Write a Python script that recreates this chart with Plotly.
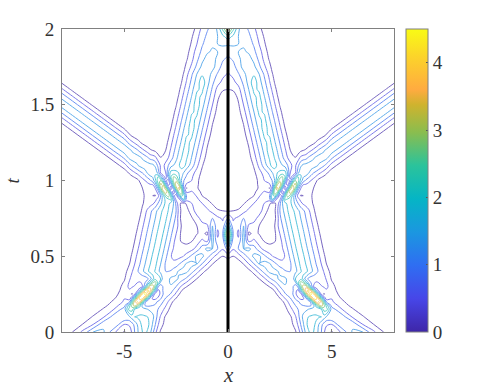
import plotly.graph_objects as go

x_main = [0,.25,.5,.75,1,1.25,1.5,1.75,2,2.25,2.5,2.75,3,3.25,3.5,3.75,4,4.25,4.5,4.75,5,5.5,6,6.5,7,7.5,8]
x_mid = [2.125,2.375,2.625,2.875,3.125,3.375,3.625,3.875,4.125,4.375,4.625]
t_vals = [round(i*0.05,2) for i in range(41)]
t_extra = [.175,.225,.275,.325,.875,.925,.975,1.025]

# amplitude, right half (x >= 0); one row per t, trailing zeros omitted
rows = [
[0,0,0,0,0,0,0,0, 0,0,.01,.03,.1,.35,.9,1.7,2.1,1.8,1.2,.6, .35,.9,1.65,1.6,.9,.4,.05],
[0,0,0,0,0,0,0,0, 0,0,.02,.1,.25,.55,1.2,1.9,2.2,1.9,1.3,.85, .8,1.55,1.5,.8,.42,.05],
[0,0,0,0,0,0,0,0, 0,0,.01,.1,.33,.75,1.4,1.9,2.05,2.1,2.0,1.55, 1.6,1.4,.75,.45,.05],
[0,0,0,0,0,0,0,0, 0,0,.03,.25,.65,1.05,1.35,1.5,1.7,1.7,2.0,2.6, 1.4,.8,.45,.08],
[0,0,0,0,0,0,0,0, 0,.02,.15,.55,1.0,1.3,1.1,.9,1.4,3.7,3.4,1.1, .85,.5,.08],
[0,0,0,0,0,0,0,0, .02,.25,.7,1.15,1.4,.9,.5,2.8,4.5,3.0,.7,.6, .7,.2,.02],
[0,0,0,0,0,0,.05,.2, .42,.75,1.2,1.55,1.5,.9,2.5,3.5,1.5,.5,.75,.9, .55,.05],
[0,0,0,0,0,.1,.38,.7, 1.1,1.4,1.7,1.7,1.3,2.0,2.3,1.4,.95,.95,1.1,.75, .35,.03],
[0,0,0,.03,.25,.55,.95,1.35, 1.7,1.75,1.5,1.25,1.2,1.5,1.95,2.12,1.72,1.3,.97,.57, .25,.02],
[.03,.05,.15,.42,.8,1.2,1.6,1.75, 1.65,1.3,1.0,.85,1.14,1.61,2.09,1.99,1.59,1.19,.79,.39, .07],
[.55,.4,.6,.95,1.35,1.7,1.7,1.3, .95,.72,.62,.82,1.29,1.77,2.24,1.86,1.46,1.06,.66,.28, .03],
[1.4,.85,1.2,1.6,1.7,1.4,.95,.65, .55,.55,.6,.98,1.45,1.93,2.12,1.72,1.32,.92,.52,.16, .01],
[2.8,.9,.9,1.75,.7,.9,.6,.38, .3,.38,.65,1.13,1.6,2.08,1.99,1.59,1.19,.79,.4,.05],
[3.7,1.2,.7,1.75,.32,.5,.38,.3, .2,.33,.81,1.28,1.76,2.23,1.87,1.47,1.07,.67,.29,.02],
[2.2,.9,.9,1.6,.7,.65,.4,.2, .15,.4,.96,1.43,1.91,2.14,1.74,1.34,.94,.54,.18],
[1.2,.75,.9,1.2,1.2,.95,.65,.35, .15,.3,1.11,1.59,2.06,2.01,1.61,1.21,.81,.41,.05],
[.35,.4,.45,.65,.9,1.1,1.0,.6, .25,.33,1.2,1.75,2.2,1.88,1.48,1.08,.68,.28,.02],
[.05,.1,.2,.36,.55,.8,1.05,.8, .45,.35,1.1,1.9,2.1,1.5,.9,.62,.48,.15,.02],
[0,.02,.05,.1,.25,.4,.75,1.0, 1.2,2.6,.5,2.3,2.6,1.2,.38,.55,.45,.15,.04],
[0,0,0,.02,.05,.1,.48,.55, .38,2.6,3.0,.45,2.9,2.7,.85,.5,.55,.2,.03],
[0,0,0,0,.02,.1,.55,.8, 1.0,1.6,3.1,1.8,.9,2.8,1.9,1.15,.8,.45,.2,.08, .03],
[0,0,0,0,.05,.3,.65,.95, 1.3,1.8,2.1,2.2,.8,.8,1.9,1.9,1.4,1.06,.75,.45, .15,.03],
[0,0,0,0,.1,.45,.9,1.4, 1.85,2.15,1.75,1.45,.95,.75,1.5,1.75,1.85,1.7,1.4,1.06, .62,.15,.03],
[0,0,0,.03,.24,.63,1.1,1.58, 2.05,1.97,1.5,1.03,.6,.42,.9,1.06,1.4,1.7,1.85,1.7, 1.27,.62,.15,.03],
[0,0,0,.07,.35,.79,1.26,1.74, 2.21,1.81,1.34,.86,.4,.15,.3,.45,.75,1.06,1.4,1.7, 1.82,1.27,.62,.15,.03],
[0,0,0,.14,.47,.95,1.42,1.9, 2.13,1.65,1.18,.7,.29,.04,.04,.08,.2,.45,.75,1.06, 1.52,1.82,1.27,.62,.15,.03],
[0,0,0,.24,.63,1.11,1.59,2.06, 1.97,1.49,1.02,.54,.18,0,0,0,.03,.08,.2,.45, .88,1.52,1.82,1.27,.62,.15,.03],
[0,0,.05,.35,.8,1.27,1.75,2.22, 1.8,1.33,.85,.38,.08,0,0,0,0,0,.03,.08, .3,.88,1.52,1.82,1.27,.62,.15],
[0,0,.15,.48,.96,1.43,1.91,2.12, 1.64,1.17,.69,.28,.03,0,0,0,0,0,0,0, .05,.3,.88,1.52,1.82,1.27,.62],
[0,0,.25,.64,1.12,1.59,2.07,1.96, 1.48,1.0,.53,.18,0,0,0,0,0,0,0,0, 0,.05,.3,.88,1.52,1.82,1.27],
[.02,.05,.35,.81,1.28,1.76,2.23,1.79, 1.32,.84,.37,.07,0,0,0,0,0,0,0,0, 0,0,.05,.3,.88,1.52,1.82],
[.07,.15,.49,.97,1.44,1.92,2.11,1.63, 1.16,.68,.27,0,0,0,0,0,0,0,0,0, 0,0,0,.05,.3,.88,1.52],
[.4,.45,.65,1.13,1.6,2.08,1.95,1.47, .99,.52,.17,0,0,0,0,0,0,0,0,0, 0,0,0,0,.05,.3,.88],
[.6,.7,.95,1.29,1.77,2.24,1.78,1.31, .83,.37,.07,0,0,0,0,0,0,0,0,0, 0,0,0,0,0,.05,.3],
[.75,.9,1.15,1.45,1.85,1.95,1.62,1.15, .68,.26,.01,0,0,0,0,0,0,0,0,0, 0,0,0,0,0,0,.05],
[.95,1.05,1.4,1.75,1.85,1.7,1.3,.88, .52,.1],
[1.1,1.25,1.5,1.75,1.75,1.5,1.1,.7, .35,.02],
[1.35,1.45,1.6,1.65,1.55,1.3,.95,.62, .22],
[1.65,1.65,1.6,1.55,1.4,1.15,.8,.47, .1],
[2.2,1.9,1.6,1.5,1.3,1.0,.7,.35, .05],
[3.6,2.5,1.65,1.4,1.15,.9,.55,.2, .03],
]

# same t rows, the in-between x columns listed in x_mid
mid_rows = [
[0,0,.02,.06,.2,.6,1.3,1.95,2.0,1.5,.85],
[0,.01,.05,.17,.4,.85,1.55,2.1,2.1,1.6,1.05],
[0,.01,.04,.2,.52,1.05,1.7,2.0,2.1,2.05,1.8],
[0,.01,.12,.45,.85,1.2,1.45,1.6,1.7,1.6,2.6],
[0,.07,.33,.78,1.2,1.25,.95,.8,2.8,4.05,2.3],
[.1,.45,.95,1.3,1.2,.55,1.4,3.9,4.1,1.8,.35],
[.58,.95,1.4,1.6,1.25,1.3,3.5,2.6,.8,.55,.85],
[1.25,1.55,1.7,1.5,1.4,2.4,1.85,1.1,.95,1.05,.95],
[1.75,1.65,1.4,1.2,1.3,1.7,2.15,1.92,1.5,1.15,.77],
[1.5,1.15,.9,.95,1.38,1.85,2.19,1.79,1.39,.99,.59],
[.82,.65,.7,1.05,1.53,2.0,2.06,1.66,1.26,.86,.46],
[.55,.52,.78,1.21,1.69,2.16,1.92,1.52,1.12,.72,.33],
[.33,.45,.89,1.37,1.84,2.19,1.79,1.39,.99,.59,.22],
[.25,.55,1.04,1.52,1.99,2.07,1.67,1.27,.87,.47,.11],
[.25,.72,1.2,1.67,2.15,1.94,1.54,1.14,.74,.35,.05],
[.2,.6,1.35,1.82,2.21,1.81,1.41,1.01,.61,.23,.01],
[.28,.7,1.5,1.98,2.08,1.68,1.28,.88,.48,.1],
[.33,.5,1.6,2.1,1.8,1.2,.72,.55,.35,.06],
[2.2,1.7,1.0,3.1,1.9,.65,.4,.5,.3,.08,.01],
[1.0,3.7,1.4,1.4,3.6,1.6,.45,.55,.4,.08,.01],
[1.2,2.4,2.9,.6,1.9,2.6,1.4,.95,.6,.3,.13],
[1.55,2.0,2.2,1.6,.45,1.5,1.9,1.65,1.2,.9,.6],
[2.15,1.95,1.6,1.2,.7,1.1,1.7,1.8,1.8,1.55,1.25],
[2.2,1.74,1.27,.8,.48,.6,1.0,1.25,1.55,1.8,1.8],
[2.05,1.58,1.1,.63,.25,.18,.38,.6,.9,1.25,1.55],
[1.89,1.41,.94,.46,.14,.03,.05,.13,.3,.6,.9],
[1.73,1.25,.78,.33,.05,0,0,.01,.05,.13,.3],
[1.57,1.09,.62,.23,.01,0,0,0,0,.01,.05],
[1.4,.93,.45,.13],
[1.24,.77,.33,.04],
[1.08,.61,.22],
[.92,.44,.12],
[.76,.32,.03],
[.6,.22],
[.45,.1],
[.3,.02],
[.15],
[.05],
[.02],
[.01],
[.01],
]

# finer t rows through the narrow peaks (t_extra)
extra_rows = [
[0,0,0,0,0,0,0,0, 0,.01,.08,.38,.83,1.2,1.25,1.15,1.2,2.2,3.4,2.2, 1.05,.62,.27,.03],
[0,0,0,0,0,0,0,0, .01,.1,.42,.83,1.2,1.15,.62,1.2,3.4,4.25,2.2,.5, .78,.33,.05],
[0,0,0,0,0,0,0,.04, .15,.45,.95,1.35,1.45,.9,1.8,3.8,3.4,1.3,.5,.75, .62,.1],
[0,0,0,0,0,.02,.15,.42, .75,1.05,1.45,1.65,1.4,1.5,3.0,2.2,1.2,.75,.95,.85, .45,.04],
[.02,.06,.12,.22,.4,.6,.9,.9, 1.0,1.2,.7,2.5,2.1,1.3,.7,.6,.48,.15,.02],
[0,.01,.02,.05,.15,.3,.6,.85, .7,3.2,1.4,1.3,3.6,1.9,.55,.5,.5,.15,.03,.01],
[0,0,0,.01,.03,.12,.52,.75, .75,1.9,3.5,1.1,1.6,3.3,1.4,.8,.68,.33,.1,.03, .01],
[0,0,0,0,.03,.2,.6,.85, 1.15,1.7,2.6,2.4,.6,1.7,2.1,1.5,1.1,.75,.45,.25, .08],
]
extra_mid = [
[0,.03,.2,.6,1.0,1.25,1.2,1.1,1.5,3.0,3.0],
[.03,.22,.62,1.05,1.3,.85,.7,2.3,4.3,3.3,1.1],
[.25,.72,1.15,1.45,1.25,.7,2.9,4.15,2.4,.65,.6],
[.9,1.25,1.6,1.55,1.3,2.3,2.8,1.6,.85,.8,.98],
[2.0,.55,1.5,2.3,1.8,.95,.55,.55,.3,.06,.01],
[1.5,2.9,.5,2.8,3.0,1.0,.42,.52,.33,.07,.02],
[1.1,3.1,2.5,.55,3.1,2.3,.85,.7,.5,.2,.06],
[1.4,2.1,2.8,1.4,1.0,2.4,1.65,1.3,.95,.55,.35],
]

colorscale = [[0,"#3e26a8"],[.11,"#4746e8"],[.22,"#2f6ef2"],[.33,"#1b97e0"],[.44,"#05b5c5"],
              [.55,"#2bc39b"],[.66,"#8bbd4e"],[.75,"#cfb32e"],[.8,"#ffab40"],[.9,"#fcd02c"],[1,"#f9fb15"]]
x_ticks = [-5,0,5]
x_labels = ["-5","0","5"]
t_ticks = [0,.5,1,1.5,2]
t_labels = ["0","0.5","1","1.5","2"]
cbar_ticks = [0,1,2,3,4]

# merge columns and rows, then mirror about x = 0
x_all = x_main + x_mid
order = sorted(range(len(x_all)), key=lambda i: x_all[i])
x_half = [x_all[i] for i in order]
by_t = {}
for t, r, m in zip(t_vals + t_extra, rows + extra_rows, mid_rows + extra_mid):
    r = r + [0]*(len(x_main)-len(r))
    m = m + [0]*(len(x_mid)-len(m))
    c = r + m
    half = [c[i] for i in order]
    by_t[t] = half[:0:-1] + half
t_all = sorted(by_t)
z_full = [by_t[t] for t in t_all]
x_full = [-v for v in x_half[:0:-1]] + x_half

SERIF = '"Liberation Serif", "Times New Roman", serif'
TXT = "#333333"
fig = go.Figure()
fig.add_trace(go.Contour(x=x_full, y=t_all, z=z_full, zmin=0, zmax=4.5, colorscale=colorscale,
    autocontour=False, contours=dict(coloring="lines", start=.4, end=4.4, size=.4), opacity=.7,
    line=dict(width=1, smoothing=1), showscale=False, hoverinfo="skip"))
fig.add_trace(go.Scatter(x=[0,0], y=[0,2], mode="lines", line=dict(color="black", width=3), showlegend=False))
fig.add_trace(go.Scatter(x=[0], y=[-1], mode="markers", showlegend=False,
    marker=dict(color=[0], cmin=0, cmax=4.5, colorscale=colorscale, showscale=True,
    colorbar=dict(x=1.036, xanchor="left", xpad=0, ypad=0, y=0, yanchor="bottom", len=1.0,
                  thickness=22, tickvals=cbar_ticks, ticks="inside", ticklen=2, tickcolor="#555",
                  outlinecolor="#808080", outlinewidth=1,
                  tickfont=dict(family=SERIF, size=19, color=TXT)))))
axis = dict(showgrid=False, zeroline=False, showline=True, mirror="ticks", linecolor="#808080", linewidth=1,
            automargin=False, ticks="inside", ticklen=3, tickcolor="#808080",
            tickfont=dict(family=SERIF, size=19, color=TXT))
fig.update_layout(width=487, height=389, margin=dict(l=62, r=93, t=29, b=57),
    paper_bgcolor="white", plot_bgcolor="white", showlegend=False,
    xaxis=dict(axis, range=[-8,8], tickvals=x_ticks, ticktext=x_labels, ticklabelstandoff=2),
    yaxis=dict(axis, range=[0,2], tickvals=t_ticks, ticktext=t_labels, ticklabelstandoff=3),
    annotations=[
        dict(text="<i>x</i>", xref="paper", yref="paper", x=.5, y=0, xanchor="center", yanchor="middle",
             yshift=-43, showarrow=False, font=dict(family=SERIF, size=21, color=TXT)),
        dict(text="<i>t</i>", xref="paper", yref="paper", x=0, y=.5, xanchor="center", yanchor="middle",
             xshift=-50, textangle=-90, showarrow=False, font=dict(family=SERIF, size=19, color=TXT)),
    ])
fig.write_html("out.html", post_script="document.body.style.margin='0';", config={"displayModeBar": False})
